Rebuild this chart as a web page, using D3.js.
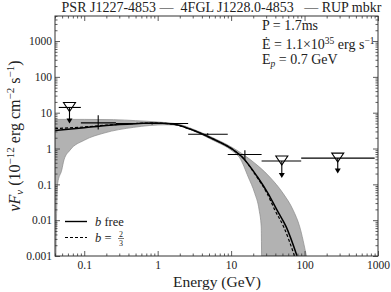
<!DOCTYPE html>
<html>
<head>
<meta charset="utf-8">
<script src="https://cdn.jsdelivr.net/npm/d3@7"></script>
<style>
  body { margin: 0; background: #fff; }
</style>
</head>
<body>
<div id="chart"></div>
<script>
// model curves (E in GeV, nuFnu in 1e-12 erg cm^-2 s^-1)
var solidE = [0.04, 0.1, 0.2, 0.5, 0.86, 1.6, 2.75, 5.5, 10.5, 13.9, 22.9, 31.8, 42.2, 56.3, 79];
var solidF = [3.2, 3.8, 4.4, 4.95, 5.15, 4.8, 3.5, 1.9, 0.94, 0.6, 0.16, 0.056, 0.019, 0.0065, 0.001];
var dashE = [0.04, 0.1, 0.2, 0.5, 0.86, 1.6, 2.75, 5.5, 10.5, 13.9, 22, 31, 39.5, 52, 73];
var dashF = [3.6, 4.0, 4.5, 5.0, 5.15, 4.8, 3.5, 1.9, 0.94, 0.6, 0.17, 0.055, 0.019, 0.0065, 0.001];
var bandHiE = [0.04, 0.1, 0.25, 0.5, 1, 2, 3, 5.5, 10.5, 18, 33.6, 51, 70, 86, 106];
var bandHiF = [6.5, 6.5, 6.4, 6.0, 5.5, 4.7, 3.5, 2.05, 1.05, 0.5, 0.16, 0.056, 0.019, 0.0065, 0.001];
var bandLoE = [0.041, 0.0435, 0.0494, 0.053, 0.064, 0.1, 0.186, 0.47, 1.3, 2, 3, 5.5, 10.5, 13.1, 17.1, 21, 24.1, 25.7, 26];
var bandLoF = [0.001, 0.108, 0.25, 0.48, 0.9, 1.7, 2.7, 3.9, 4.6, 4.4, 3.2, 1.75, 0.84, 0.55, 0.16, 0.056, 0.019, 0.0065, 0.001];

// flux points: detections and upper limits
var ptE    = [0.155, 0.84, 4.8, 15.4];
var ptElo  = [0.09, 0.27, 2.6, 9];
var ptEhi  = [0.27, 2.6, 9, 26];
var ptF    = [5.2, 5.0, 2.5, 0.68];
var ptFlo  = [3.4, 4.7, 2.35, 0.47];
var ptFhi  = [8.5, 5.3, 2.65, 0.9];

var ulE    = [0.063, 49, 283];
var ulElo  = [0.045, 26, 90];
var ulEhi  = [0.09, 90, 900];
var ulF    = [14, 0.45, 0.54];
var ulTo   = [5.0, 0.15, 0.2];

var xTicks = [0.1, 1, 10, 100, 1000];
var yTicks = [0.001, 0.01, 0.1, 1, 10, 100, 1000];

var W = 391, H = 292;
var margin = { top: 16, right: 13, bottom: 36, left: 55 };
var pw = W - margin.left - margin.right, ph = H - margin.top - margin.bottom;

var svg = d3.select('#chart').append('svg')
    .attr('width', W)
    .attr('height', H)
    .attr('font-family', '"Liberation Serif", "DejaVu Serif", serif')
    .attr('fill', '#222');

var x = d3.scaleLog().domain([0.04, 1000]).range([0, pw]);
var y = d3.scaleLog().domain([0.001, 5000]).range([ph, 0]);

var g = svg.append('g')
    .attr('transform', 'translate(' + margin.left + ',' + margin.top + ')');

g.append('clipPath').attr('id', 'clip')
  .append('rect').attr('width', pw).attr('height', ph);

var plot = g.append('g').attr('clip-path', 'url(#clip)');

function pts(es, fs) { return es.map(function(e, i) { return [x(e), y(fs[i])]; }); }
var line = d3.line().curve(d3.curveMonotoneX);

// uncertainty band
var up = line(pts(bandHiE, bandHiF));
var lo = line(pts(bandLoE, bandLoF).reverse()).replace(/^M/, 'L');
plot.append('path')
    .attr('d', up + lo + 'Z')
    .attr('fill', '#b2b2b2')
    .attr('stroke', '#8a8a8a')
    .attr('stroke-width', 0.7);

plot.append('path')
    .attr('d', line(pts(solidE, solidF)))
    .attr('fill', 'none')
    .attr('stroke', '#000')
    .attr('stroke-width', 1.5);

plot.append('path')
    .attr('d', line(pts(dashE, dashF)))
    .attr('fill', 'none')
    .attr('stroke', '#000')
    .attr('stroke-width', 1.2)
    .attr('stroke-dasharray', '3,2');

// detections
ptE.forEach(function(e, i) {
  plot.append('line')
      .attr('x1', x(ptElo[i])).attr('x2', x(ptEhi[i]))
      .attr('y1', y(ptF[i])).attr('y2', y(ptF[i]))
      .attr('stroke', '#000').attr('stroke-width', 1.1);
  plot.append('line')
      .attr('x1', x(e)).attr('x2', x(e))
      .attr('y1', y(ptFlo[i])).attr('y2', y(ptFhi[i]))
      .attr('stroke', '#000').attr('stroke-width', 1.1);
});

// upper limits
ulE.forEach(function(e, i) {
  var cx = x(e), cy = y(ulF[i]), ty = y(ulTo[i]);
  plot.append('line')
      .attr('x1', x(ulElo[i])).attr('x2', x(ulEhi[i]))
      .attr('y1', cy).attr('y2', cy)
      .attr('stroke', '#000').attr('stroke-width', 1.1);
  plot.append('line')
      .attr('x1', cx).attr('x2', cx)
      .attr('y1', cy).attr('y2', ty - 4)
      .attr('stroke', '#000').attr('stroke-width', 1.1);
  plot.append('path')
      .attr('d', 'M' + (cx - 3) + ',' + (ty - 5) + 'L' + (cx + 3) + ',' + (ty - 5) + 'L' + cx + ',' + ty + 'Z')
      .attr('fill', '#000');
  plot.append('path')
      .attr('d', 'M' + (cx - 6) + ',' + (cy - 5) + 'L' + (cx + 6) + ',' + (cy - 5) + 'L' + cx + ',' + (cy + 4) + 'Z')
      .attr('fill', 'none')
      .attr('stroke', '#000')
      .attr('stroke-width', 1.1);
});

// axes with inward ticks on all four sides
function minors(scale) {
  var d = scale.domain(), out = [];
  for (var p = Math.floor(Math.log10(d[0])); p <= Math.ceil(Math.log10(d[1])); p++) {
    for (var m = 2; m <= 9; m++) {
      var v = m * Math.pow(10, p);
      if (v >= d[0] && v <= d[1]) out.push(v);
    }
  }
  return out;
}
function fmt(v) { return v >= 1 ? d3.format('d')(v) : String(+v.toPrecision(1)); }

function addAxis(gen, tx, ty, vals, size, labels, pad) {
  var a = g.append('g').attr('transform', 'translate(' + tx + ',' + ty + ')')
      .call(gen.tickValues(vals).tickSize(size).tickPadding(pad)
        .tickFormat(labels ? fmt : ''));
  a.attr('font-family', null);
  a.select('.domain').remove();
  a.selectAll('line').attr('stroke', '#333').attr('stroke-width', 0.8);
  a.selectAll('text').attr('font-size', '11.5px').attr('fill', '#222');
  return a;
}

addAxis(d3.axisBottom(x), 0, ph, xTicks, -5, true, 5);
addAxis(d3.axisBottom(x), 0, ph, minors(x), -2.5, false, 0);
addAxis(d3.axisTop(x), 0, 0, xTicks, -5, false, 0);
addAxis(d3.axisTop(x), 0, 0, minors(x), -2.5, false, 0);
addAxis(d3.axisLeft(y), 0, 0, yTicks, -5, true, 3);
addAxis(d3.axisLeft(y), 0, 0, minors(y), -2.5, false, 0);
addAxis(d3.axisRight(y), pw, 0, yTicks, -5, false, 0);
addAxis(d3.axisRight(y), pw, 0, minors(y), -2.5, false, 0);

g.append('rect')
    .attr('width', pw).attr('height', ph)
    .attr('fill', 'none')
    .attr('stroke', '#333')
    .attr('stroke-width', 1);

// legend
var leg = g.append('g').attr('transform', 'translate(10, 0)');
leg.append('line')
    .attr('x1', 0).attr('x2', 22).attr('y1', 205.5).attr('y2', 205.5)
    .attr('stroke', '#000').attr('stroke-width', 1.4);
leg.append('line')
    .attr('x1', 0).attr('x2', 22).attr('y1', 221.5).attr('y2', 221.5)
    .attr('stroke', '#000').attr('stroke-width', 1.2)
    .attr('stroke-dasharray', '3,2');
var l1 = leg.append('text').attr('x', 30).attr('y', 209.5).attr('font-size', '12.5px');
l1.append('tspan').attr('font-style', 'italic').text('b');
l1.append('tspan').text(' free');
var l2 = leg.append('text').attr('x', 30).attr('y', 225.5).attr('font-size', '12.5px');
l2.append('tspan').attr('font-style', 'italic').text('b');
l2.append('tspan').text(' = ');
leg.append('text').attr('x', 56).attr('y', 221).attr('font-size', '8px')
    .attr('text-anchor', 'middle').text('2');
leg.append('line').attr('x1', 53).attr('x2', 59).attr('y1', 222.5).attr('y2', 222.5)
    .attr('stroke', '#222').attr('stroke-width', 0.6);
leg.append('text').attr('x', 56).attr('y', 229.5).attr('font-size', '8px')
    .attr('text-anchor', 'middle').text('3');

// pulsar info
var info = g.append('g').attr('font-size', '14px');
var t1 = info.append('text').attr('x', 207).attr('y', 14);
t1.text('P = 1.7ms');
var t2 = info.append('text').attr('x', 207).attr('y', 33);
t2.append('tspan').text('\u0116 = 1.1\u00d710');
t2.append('tspan').attr('font-size', '9.5px').attr('dy', -5).text('35');
t2.append('tspan').attr('dy', 5).text(' erg s');
t2.append('tspan').attr('font-size', '9.5px').attr('dy', -5).text('\u22121');
var t3 = info.append('text').attr('x', 207).attr('y', 48);
t3.append('tspan').text('E');
t3.append('tspan').attr('font-size', '9.5px').attr('dy', 3).attr('font-style', 'italic').text('p');
t3.append('tspan').attr('dy', -3).text(' = 0.7 GeV');

// title and axis labels
svg.append('text')
    .attr('x', 221.5).attr('y', 12)
    .attr('text-anchor', 'middle')
    .attr('font-size', '14px')
    .attr('xml:space', 'preserve')
    .text('PSR J1227-4853 \u2014  4FGL J1228.0-4853   \u2014 RUP mbkr');

svg.append('text')
    .attr('x', 217).attr('y', 287)
    .attr('text-anchor', 'middle')
    .attr('font-size', '15.5px')
    .text('Energy (GeV)');

var yl = svg.append('text')
    .attr('transform', 'translate(20,' + (margin.top + ph / 2) + ') rotate(-90)')
    .attr('text-anchor', 'middle')
    .attr('font-size', '16px');
yl.append('tspan').attr('font-style', 'italic').text('\u03bdF');
yl.append('tspan').attr('font-style', 'italic').attr('font-size', '11px').attr('dy', 3).text('\u03bd');
yl.append('tspan').attr('dy', -3).text(' (10');
yl.append('tspan').attr('font-size', '11px').attr('dy', -6).text('\u221212');
yl.append('tspan').attr('dy', 6).text(' erg cm');
yl.append('tspan').attr('font-size', '11px').attr('dy', -6).text('\u22122');
yl.append('tspan').attr('dy', 6).text(' s');
yl.append('tspan').attr('font-size', '11px').attr('dy', -6).text('\u22121');
yl.append('tspan').attr('dy', 6).text(')');
</script>
</body>
</html>
